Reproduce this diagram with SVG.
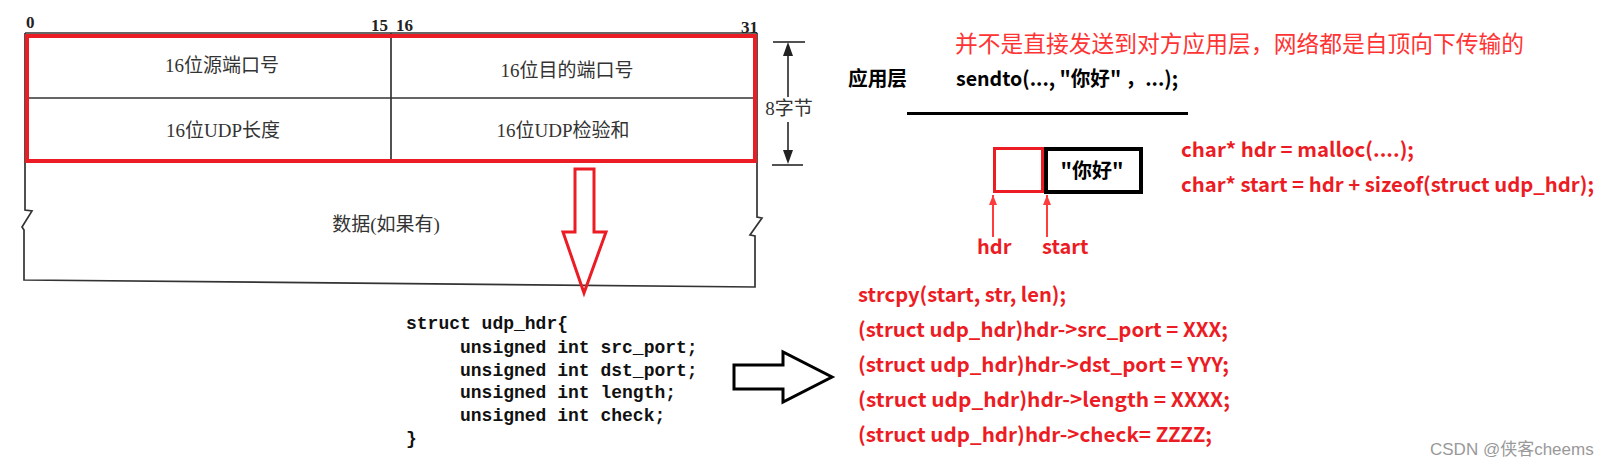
<svg xmlns="http://www.w3.org/2000/svg" width="1609" height="467" viewBox="0 0 1609 467">
<style>
.tbl{fill:none;stroke:#333;stroke-width:1.7}
.ser{font-family:"Liberation Serif","Noto Sans CJK SC",serif;fill:#333}
.num{font-family:"Liberation Serif",serif;font-weight:bold;font-size:17px;fill:#222}
.cell{font-size:19px;text-anchor:middle}
.code{font-family:"Liberation Mono",monospace;font-weight:bold;font-size:18px;fill:#111}
.yh{font-family:"Noto Sans CJK SC","Liberation Sans",sans-serif;font-weight:bold}
.red{fill:#ec1c24}
.blk{fill:#000}
</style>
<defs>
<marker id="rhead" viewBox="0 0 10 10" refX="10" refY="5" markerWidth="10" markerHeight="10" markerUnits="userSpaceOnUse" orient="auto">
<path d="M0,1 L10,5 L0,9 z" fill="#ff3b3b"/>
</marker>
</defs>
<rect width="1609" height="467" fill="#fff"/>

<g id="udp-table">
<line class="tbl" x1="25" y1="33" x2="757" y2="33"/>
<line class="tbl" x1="25" y1="98" x2="757" y2="98"/>
<line class="tbl" x1="25" y1="160" x2="757" y2="160"/>
<line class="tbl" x1="391" y1="33" x2="391" y2="160"/>
<polyline class="tbl" points="25,33 25,210 32,211 22,227 24,230 24,280 755,287 755,236 750,235 762,218 757,217 757,33"/>
<text class="num" x="26" y="28">0</text>
<text class="num" x="371" y="31">15</text>
<text class="num" x="396" y="31">16</text>
<text class="num" x="741" y="33">31</text>
<text class="ser cell" x="222" y="72">16位源端口号</text>
<text class="ser cell" x="567" y="77">16位目的端口号</text>
<text class="ser cell" x="223" y="137">16位UDP长度</text>
<text class="ser cell" x="563" y="137">16位UDP检验和</text>
<text class="ser cell" x="386" y="231">数据(如果有)</text>
</g>

<g id="size-dim">
<line class="tbl" x1="773" y1="42" x2="805" y2="42"/>
<line class="tbl" x1="772" y1="165" x2="803" y2="165"/>
<line class="tbl" x1="788" y1="50" x2="788" y2="97"/>
<line class="tbl" x1="788" y1="122" x2="788" y2="157"/>
<path d="M788,42 L793,56 L783,56 z" fill="#222"/>
<path d="M788,164 L793,150 L783,150 z" fill="#222"/>
<text class="ser" x="789" y="115" font-size="19" text-anchor="middle">8字节</text>
</g>

<g id="header-highlight">
<rect x="27" y="36" width="728" height="125" fill="none" stroke="#ec1c24" stroke-width="4"/>
</g>

<g id="struct-code">
<text class="code" x="406" y="329">struct udp_hdr{</text>
<text class="code" x="460" y="353">unsigned int src_port;</text>
<text class="code" x="460" y="376">unsigned int dst_port;</text>
<text class="code" x="460" y="398">unsigned int length;</text>
<text class="code" x="460" y="421">unsigned int check;</text>
<text class="code" x="406" y="444">}</text>
</g>

<g id="app-layer">
<text class="yh" x="955" y="52" font-size="23" style="font-weight:normal;fill:#ff3333" textLength="569" lengthAdjust="spacingAndGlyphs">并不是直接发送到对方应用层，网络都是自顶向下传输的</text>
<text class="blk yh" x="848" y="86" font-size="20" textLength="59" lengthAdjust="spacingAndGlyphs">应用层</text>
<text class="blk yh" x="956" y="86" font-size="20" textLength="222" lengthAdjust="spacingAndGlyphs">sendto(..., "你好" ，...);</text>
<line x1="907" y1="113.5" x2="1188" y2="113.5" stroke="#000" stroke-width="3"/>
</g>

<g id="buffer">
<rect x="994.5" y="148.5" width="48" height="43" fill="none" stroke="#ec1c24" stroke-width="3"/>
<rect x="1046" y="149" width="95" height="43" fill="none" stroke="#000" stroke-width="4"/>
<text class="blk yh" x="1092" y="178" font-size="20" text-anchor="middle">"你好"</text>
</g>

<g id="pointer-labels">
<text class="red yh" x="977" y="254" font-size="20">hdr</text>
<text class="red yh" x="1042" y="254" font-size="20">start</text>
</g>

<g id="malloc-code">
<text class="red yh" x="1181" y="157" font-size="20" textLength="233" lengthAdjust="spacingAndGlyphs">char* hdr = malloc(....);</text>
<text class="red yh" x="1181" y="192" font-size="20" textLength="413" lengthAdjust="spacingAndGlyphs">char* start = hdr + sizeof(struct udp_hdr);</text>
</g>

<g id="fill-code">
<text class="red yh" x="858" y="302" font-size="20" textLength="208" lengthAdjust="spacingAndGlyphs">strcpy(start, str, len);</text>
<text class="red yh" x="858" y="337" font-size="20" textLength="370" lengthAdjust="spacingAndGlyphs">(struct udp_hdr)hdr-&gt;src_port = XXX;</text>
<text class="red yh" x="858" y="372" font-size="20" textLength="371" lengthAdjust="spacingAndGlyphs">(struct udp_hdr)hdr-&gt;dst_port = YYY;</text>
<text class="red yh" x="858" y="407" font-size="20" textLength="372" lengthAdjust="spacingAndGlyphs">(struct udp_hdr)hdr-&gt;length = XXXX;</text>
<text class="red yh" x="858" y="442" font-size="20" textLength="354" lengthAdjust="spacingAndGlyphs">(struct udp_hdr)hdr-&gt;check= ZZZZ;</text>
</g>

<g id="connectors">
<polygon points="575,169 594,169 594,232 606,232 584,293 563,232 575,232" fill="none" stroke="#ec1c24" stroke-width="3"/>
<polygon points="734,365 783,365 783,352 832,377 783,402 783,389 734,389" fill="#fff" stroke="#000" stroke-width="3"/>
<line x1="993" y1="237" x2="993" y2="195" stroke="#ff3b3b" stroke-width="2" marker-end="url(#rhead)"/>
<line x1="1047" y1="237" x2="1047" y2="195" stroke="#ff3b3b" stroke-width="2" marker-end="url(#rhead)"/>
</g>

<text x="1430" y="455" font-family="Liberation Sans,Noto Sans CJK SC,sans-serif" font-size="17" fill="#999">CSDN @侠客cheems</text>
</svg>
